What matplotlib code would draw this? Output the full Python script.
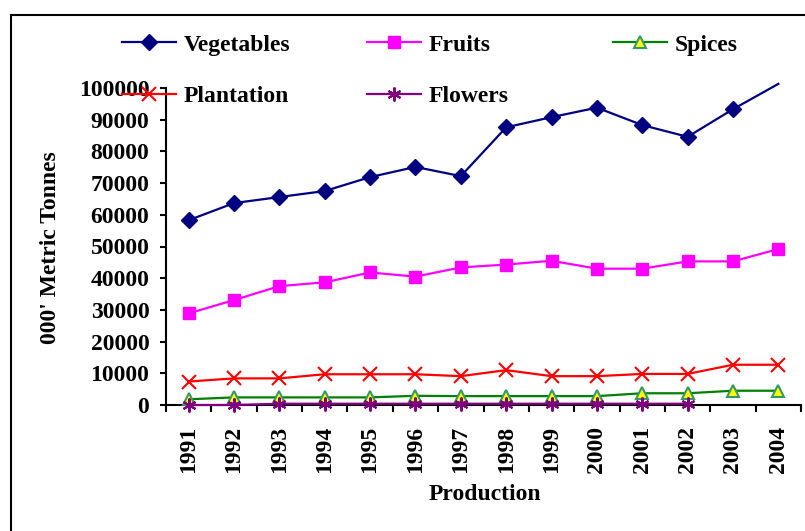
import numpy as np
import matplotlib
matplotlib.use('Agg')
import matplotlib.pyplot as plt
from matplotlib.patches import Rectangle

# Production of horticulture crops, '000 metric tonnes
years = ['1991', '1992', '1993', '1994', '1995', '1996', '1997',
         '1998', '1999', '2000', '2001', '2002', '2003', '2004']
vegetables = [58300, 63700, 65600, 67500, 71900, 75100, 72200,
              87600, 90800, 93800, 88300, 84600, 93300, 101300]
fruits = [28900, 33100, 37500, 38700, 41800, 40500, 43400,
          44300, 45500, 43000, 43000, 45300, 45300, 49200]
spices = [1800, 2400, 2400, 2400, 2400, 2900, 2800,
          2800, 2800, 2800, 3700, 3700, 4500, 4500]
plantation = [7400, 8400, 8400, 9700, 9700, 9700, 9100,
              11000, 9100, 9100, 9800, 9800, 12700, 12700]
flowers = [0, 0, 400, 400, 400, 400, 400,
           400, 400, 400, 400, 400, None, None]

plt.rcParams['font.family'] = ['Liberation Serif', 'DejaVu Serif']
plt.rcParams['font.weight'] = 'bold'
fs = 17

W, H = 805, 531
fig = plt.figure(figsize=(W / 100, H / 100), dpi=100)
ax = fig.add_axes([166 / W, 1 - 405 / H, (801 - 166) / W, (405 - 88) / H])

x = np.arange(len(years))
flowers_arr = np.array([np.nan if v is None else v for v in flowers], dtype=float)

# Vegetables: the 2004 point runs above the axis, marker hidden
h_veg, = ax.plot(x, vegetables, color='#000080', lw=1.6, marker='D', ms=8,
                 markevery=list(range(len(years) - 1)), clip_on=False,
                 label='Vegetables', zorder=5)
h_fru, = ax.plot(x, fruits, color='#FF00FF', lw=1.6, marker='s', ms=8,
                 label='Fruits', zorder=5)
h_plt, = ax.plot(x, plantation, color='#FF0000', lw=1.6, marker='x', ms=10,
                 mew=1.5, label='Plantation', zorder=5)
h_spi, = ax.plot(x, spices, color='#008000', lw=1.6, marker='^', ms=9,
                 mfc='#FFFF00', mec='#339966', mew=1.5, label='Spices',
                 zorder=5, clip_on=False)
h_flo, = ax.plot(x, flowers_arr, color='#800080', lw=1.6, marker=(6, 2, 0),
                 ms=10, mew=1.5, label='Flowers', zorder=6, clip_on=False)

ax.set_xlim(-0.5, len(years) - 0.5)
ax.set_ylim(0, 100000)
ax.set_yticks(np.arange(0, 100001, 10000))
ax.set_xticks(x)
ax.set_xticklabels(years, rotation=90, fontsize=fs, fontweight='bold')
ax.set_xticks(np.arange(-0.5, len(years), 1.0), minor=True)
ax.tick_params(axis='x', which='major', length=0, pad=15)
ax.tick_params(axis='x', which='minor', length=5, width=1.5, direction='out')
ax.tick_params(axis='y', length=4, width=1.5, direction='out', pad=8,
               labelsize=fs)
for lab in ax.get_yticklabels():
    lab.set_fontweight('bold')

ax.spines['top'].set_visible(False)
ax.spines['right'].set_visible(False)
ax.spines['left'].set_linewidth(1.5)
ax.spines['bottom'].set_linewidth(1.5)

fig.text(50 / W, 1 - 248 / H, "000' Metric Tonnes", rotation=90,
         ha='center', va='center', fontsize=fs, fontweight='bold')
fig.text(485 / W, 1 - 495 / H, 'Production', ha='center', va='center',
         fontsize=fs, fontweight='bold')

# Legend: three columns at fixed positions
cols = [([h_veg, h_plt], 122), ([h_fru, h_flo], 367), ([h_spi], 613)]
for handles, xpos in cols:
    leg = fig.legend(handles=handles, loc='upper left',
                     bbox_to_anchor=(xpos / W, 1 - 34 / H),
                     frameon=False, fontsize=fs, handlelength=2.3,
                     handletextpad=0.3, labelspacing=1.27,
                     borderpad=0, borderaxespad=0)
    for t in leg.get_texts():
        t.set_fontweight('bold')

# Outer chart border
fig.patches.append(Rectangle((11 / W, -0.1), 1.2, 1.1 - 15 / H,
                             transform=fig.transFigure, fill=False,
                             edgecolor='black', linewidth=1.5))

fig.savefig('out.png', dpi=100)
